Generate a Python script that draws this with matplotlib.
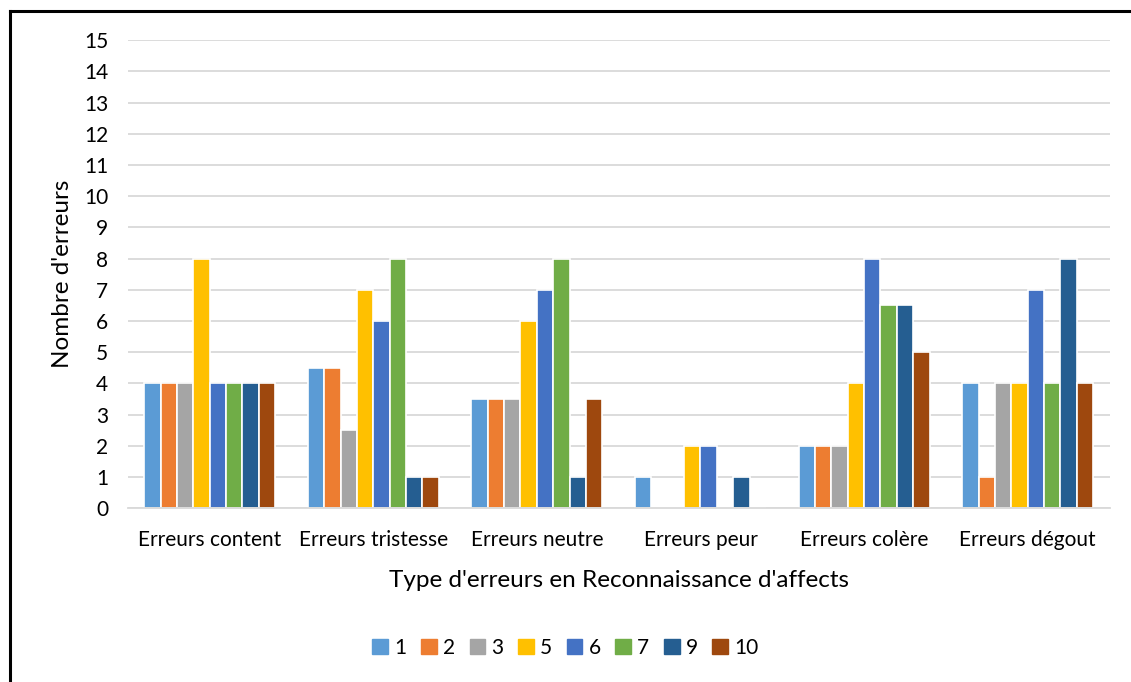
import matplotlib.pyplot as plt
import numpy as np
from matplotlib.lines import Line2D

CATEGORIES = ['Erreurs content', 'Erreurs tristesse', 'Erreurs neutre',
              'Erreurs peur', 'Erreurs colère', 'Erreurs dégout']
SERIES = ['1', '2', '3', '5', '6', '7', '9', '10']
COLORS = ['#5B9BD5', '#ED7D31', '#A5A5A5', '#FFC000',
          '#4472C4', '#70AD47', '#255E91', '#9E480E']

S1 = [4, 4.5, 3.5, 1, 2, 4]
S2 = [4, 4.5, 3.5, 0, 2, 1]
S3 = [4, 2.5, 3.5, 0, 2, 4]
S5 = [8, 7, 6, 2, 4, 4]
S6 = [4, 6, 7, 2, 8, 7]
S7 = [4, 8, 8, 0, 6.5, 4]
S9 = [4, 1, 1, 1, 6.5, 8]
S10 = [4, 1, 3.5, 0, 5, 4]
VALUES = [S1, S2, S3, S5, S6, S7, S9, S10]

plt.rcParams['font.family'] = ['Lato', 'DejaVu Sans']

fig = plt.figure(figsize=(11.31, 6.82), dpi=100)
ax = fig.add_axes([0.113, 0.255, 0.868, 0.686])

x = np.arange(len(CATEGORIES))
slot = 0.1
for i, (name, vals, col) in enumerate(zip(SERIES, VALUES, COLORS)):
    offs = (i - (len(SERIES) - 1) / 2) * slot
    ax.bar(x + offs, vals, width=slot, color=col, edgecolor='white',
           linewidth=1.2, label=name, zorder=2)

ax.set_xlim(-0.5, len(CATEGORIES) - 0.5)
ax.set_ylim(0, 15)
ax.set_yticks(range(0, 16))
ax.set_xticks(x)
ax.set_xticklabels(CATEGORIES)
ax.tick_params(axis='both', length=0, labelsize=15, colors='#000000')
ax.tick_params(axis='x', pad=16)
ax.tick_params(axis='y', pad=14)
ax.grid(axis='y', color='#D9D9D9', linewidth=1.3, zorder=0)
for s in ['top', 'right', 'left']:
    ax.spines[s].set_visible(False)
ax.spines['bottom'].set_color('#D9D9D9')
ax.spines['bottom'].set_linewidth(1.3)
ax.spines['bottom'].set_zorder(2.5)

ax.set_ylabel("Nombre d'erreurs", fontsize=17.5, labelpad=8)
ax.set_xlabel("Type d'erreurs en Reconnaissance d'affects", fontsize=17.5,
              labelpad=14)

handles = [plt.Rectangle((0, 0), 1, 1, color=c) for c in COLORS]
fig.legend(handles, SERIES, loc='center', bbox_to_anchor=(0.5, 0.05),
           ncol=len(SERIES), frameon=False, fontsize=15,
           handlelength=0.75, handleheight=0.75, handletextpad=0.3,
           columnspacing=0.7)

# outer frame (only top and left edges visible)
fig.add_artist(Line2D([0.0085, 1.0], [0.984, 0.984], color='black',
                      linewidth=2.2, transform=fig.transFigure))
fig.add_artist(Line2D([0.0085, 0.0085], [0.0, 0.984], color='black',
                      linewidth=2.2, transform=fig.transFigure))

fig.savefig('out.png', dpi=100)
